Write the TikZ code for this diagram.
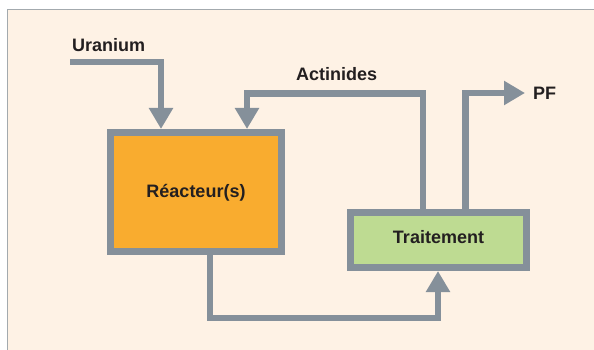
\documentclass[tikz,border=0pt]{standalone}
\usepackage{fontspec}
\setmainfont{Liberation Sans}
\usetikzlibrary{arrows.meta}
\definecolor{bgfill}{HTML}{FEF2E5}
\definecolor{linegray}{HTML}{85909A}
\definecolor{bordergray}{HTML}{A3AAAE}
\definecolor{orangefill}{HTML}{F9AC2F}
\definecolor{greenfill}{HTML}{BEDB92}
\definecolor{txt}{HTML}{231F20}
\begin{document}
\begin{tikzpicture}[x=1pt,y=-1pt,
  flow/.style={draw=linegray,line width=6.5pt},
  tipped/.style={-{Triangle[width=23pt,length=21pt]}},
  box/.style={draw=linegray,line width=7pt,inner sep=0pt},
  lbl/.style={font=\fontsize{18}{20}\selectfont\bfseries,text=txt,inner sep=0pt}]
\useasboundingbox (0,0) rectangle (594,350);
\fill[white] (0,0) rectangle (594,350);
\fill[bgfill] (7,9.5) rectangle (594,350);
\draw[bordergray,line width=1pt] (7,350) -- (7,9.5) -- (594,9.5);

\node[box,fill=orangefill,minimum width=171pt,minimum height=119pt] (reactor) at (196,192) {};
\node[box,fill=greenfill,minimum width=176pt,minimum height=55pt] (trait) at (438.5,240) {};

\node[lbl,anchor=base] (reactorlbl) at (196,197) {Réacteur(s)};
\node[lbl,anchor=base] (traitlbl) at (438.5,243) {Traitement};
\node[lbl,anchor=base west] (uranium) at (72,51.5) {Uranium};
\node[lbl,anchor=base west] (actinides) at (296,81) {Actinides};
\node[lbl,anchor=base west] (pf) at (533,100) {PF};

\coordinate (u0) at (70,62);
\coordinate (u1) at (161,62);
\draw[flow,tipped] (u0) -- (u1) -- (u1 |- reactor.north);

\coordinate (a0) at (423,93.5);
\coordinate (a1) at (247,93.5);
\draw[flow,tipped] (a0 |- trait.north) -- (a0) -- (a1) -- (a1 |- reactor.north);

\coordinate (p0) at (465.5,93);
\coordinate (p1) at (525,93);
\draw[flow,tipped] (p0 |- trait.north) -- (p0) -- (p1);

\coordinate (b0) at (210,318);
\coordinate (b1) at (438,318);
\draw[flow,tipped] (b0 |- reactor.south) -- (b0) -- (b1) -- (b1 |- trait.south);
\end{tikzpicture}
\end{document}
